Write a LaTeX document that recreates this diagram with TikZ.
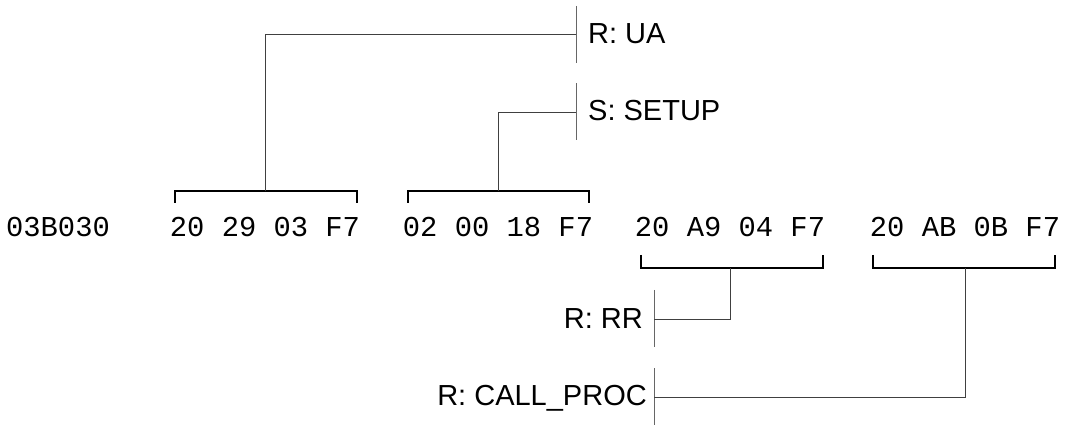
\documentclass[tikz,border=0pt]{standalone}
\usepackage{fontspec}
\setmainfont{Liberation Sans}
\setmonofont{Liberation Mono}
\usetikzlibrary{positioning,calc}

\begin{document}
\begin{tikzpicture}[
    x=1pt, y=-1pt,
    hexbytes/.style={font=\fontsize{28.8}{34}\selectfont\ttfamily, inner sep=0pt, anchor=base},
    msg/.style={font=\fontsize{29}{34}\selectfont, inner sep=0pt},
    brace/.style={line width=2.4pt},
    link/.style={line width=1pt, draw=black!75},
    bar/.style={line width=1pt, draw=black!60}
  ]
    \useasboundingbox (0,0) rectangle (1067,427);

    % byte row
    \node[hexbytes] (addr) at (58,237) {03B030};
    \node[hexbytes] (ua) at (265,237) {20 29 03 F7};
    \node[hexbytes] (setup) at (498,237) {02 00 18 F7};
    \node[hexbytes] (rr) at (730,237) {20 A9 04 F7};
    \node[hexbytes] (call) at (965,237) {20 AB 0B F7};

    % brackets above
    \coordinate (uaTop) at ($(ua.base)+(0,-46)$);
    \coordinate (setupTop) at ($(setup.base)+(0,-46)$);
    \draw[brace] ($(uaTop)+(-90,12)$) -- ++(0,-12) -- ($(uaTop)+(92,0)$) -- ++(0,12);
    \draw[brace] ($(setupTop)+(-90,12)$) -- ++(0,-12) -- ($(setupTop)+(91,0)$) -- ++(0,12);

    % brackets below
    \coordinate (rrBot) at ($(rr.base)+(0,31)$);
    \coordinate (callBot) at ($(call.base)+(0,31)$);
    \draw[brace] ($(rrBot)+(-89,-13)$) -- ++(0,13) -- ($(rrBot)+(93,0)$) -- ++(0,-13);
    \draw[brace] ($(callBot)+(-92,-13)$) -- ++(0,13) -- ($(callBot)+(90,0)$) -- ++(0,-13);

    % message bars
    \coordinate (barUA) at (576,35);
    \coordinate (barSetup) at (576,112.5);
    \coordinate (barRR) at (654,319);
    \coordinate (barCall) at (654,397);
    \draw[bar] ($(barUA)+(0,-29)$) -- ($(barUA)+(0,28)$);
    \draw[bar] ($(barSetup)+(0,-29)$) -- ($(barSetup)+(0,28)$);
    \draw[bar] ($(barRR)+(0,-29)$) -- ($(barRR)+(0,28)$);
    \draw[bar] ($(barCall)+(0,-29)$) -- ($(barCall)+(0,28)$);

    % message labels
    \node[msg, anchor=base west] (lblUA) at (588,44) {R: UA};
    \node[msg, anchor=base west] (lblSetup) at (588,121) {S: SETUP};
    \node[msg, anchor=base east] (lblRR) at (643,328) {R: RR};
    \node[msg, anchor=base east] (lblCall) at (647,405) {R: CALL\_PROC};

    % connectors
    \draw[link] (uaTop) |- (barUA);
    \draw[link] (setupTop) |- (barSetup);
    \draw[link] (rrBot) |- (barRR);
    \draw[link] (callBot) |- (barCall);
  \end{tikzpicture}
\end{document}
